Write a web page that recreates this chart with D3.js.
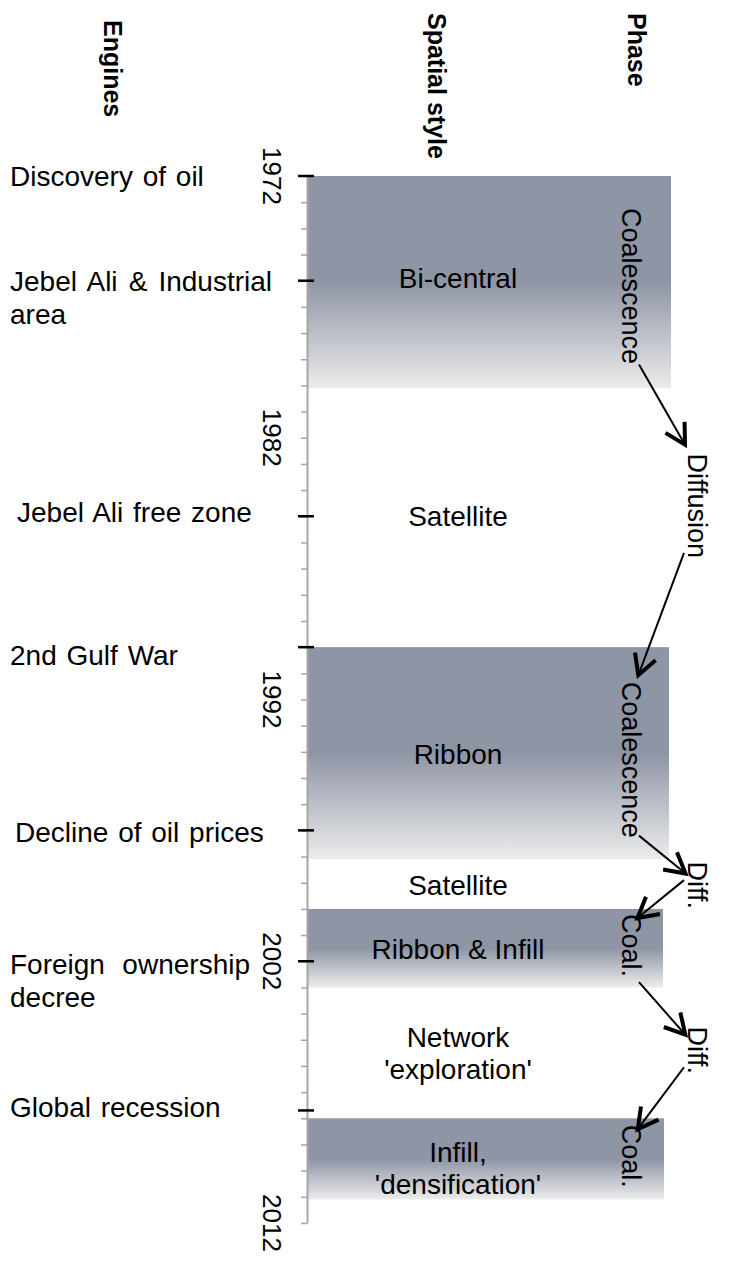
<!DOCTYPE html>
<html>
<head>
<meta charset="utf-8">
<script src="https://cdn.jsdelivr.net/npm/d3@7"></script>
<style>
  body { margin: 0; background: #fff; }
  text { font-family: "Liberation Sans", Arial, sans-serif; fill: #000; }
</style>
</head>
<body>
<div id="chart"></div>
<script>
// year labels on the time axis
const yearLabels = [1972, 1982, 1992, 2002, 2012]

// engines (left column) and the year they happen
const engineLabels = [["Discovery of oil"], ["Jebel Ali & Industrial", "area"], ["Jebel Ali free zone"], ["2nd Gulf War"],
    ["Decline of oil prices"], ["Foreign ownership", "decree"], ["Global recession"]]
const engineYears = [1972, 1976, 1985, 1990, 1997, 2002, 2007.7]

// spatial style labels (centre column)
const styleLabels = [["Bi-central"], ["Satellite"], ["Ribbon"], ["Satellite"], ["Ribbon & Infill"],
    ["Network", "'exploration'"], ["Infill,", "'densification'"]]
const styleYears = [1975.9, 1985, 1994.1, 1999.1, 2001.55, 2005.5, 2009.9]

// shaded coalescence periods
const shadeStart = [1972, 1990, 2000, 2008]
const shadeEnd = [1980.1, 1998.1, 2003, 2011.1]

// phases (right column)
const phaseLabels = ["Coalescence", "Diffusion", "Coalescence", "Diff.", "Coal.", "Diff.", "Coal."]
const phaseKind = ["coal", "diff", "coal", "diff", "coal", "diff", "coal"]
const phaseYears = [1976.2, 1984.6, 1994.3, 1999.1, 2001.4, 2005.4, 2009.45]

// arrows between phases: from year -> to year
const arrowFrom = [1979.2, 1986.4, 1997.2, 1998.9, 2002.8, 2006.05]
const arrowTo = [1982.2, 1991.0, 1998.6, 2000.3, 2004.75, 2008.35]
const arrowFromKind = ["coal", "diff", "coal", "diff", "coal", "diff"]
const arrowToKind = ["diff", "coal", "diff", "coal", "diff", "coal"]

var width = 729
var height = 1267
var axisX = 307

var svg = d3.select('#chart').append('svg').attr('width', width).attr('height', height)

var yScale = d3.scaleLinear().domain([1972, 2012]).range([176, 1223])
// column positions of the phase words / arrow ends
var phaseX = d3.scaleOrdinal().domain(["coal", "diff"]).range([622, 688])
var arrowX = d3.scaleOrdinal().domain(["coal", "diff"]).range([639, 684])

// gradient of the shaded bars
var defs = svg.append('defs')
var grad = defs.append('linearGradient').attr('id', 'shade')
    .attr('x1', 0).attr('y1', 0).attr('x2', 0).attr('y2', 1)
grad.append('stop').attr('offset', '0%').attr('stop-color', '#8e95a5')
grad.append('stop').attr('offset', '50%').attr('stop-color', '#8e95a5')
grad.append('stop').attr('offset', '100%').attr('stop-color', '#ececec')

defs.append('marker').attr('id', 'head')
    .attr('viewBox', '-4 -16 30 32').attr('refX', 18).attr('refY', 0)
    .attr('markerWidth', 30).attr('markerHeight', 32).attr('markerUnits', 'userSpaceOnUse')
    .attr('orient', 'auto')
    .append('path').attr('d', 'M0,-11L20,0L0,11').attr('fill', 'none')
    .attr('stroke', '#000').attr('stroke-width', 4)

//bars
var barRight = [671, 669, 663, 664]
svg.append('g').selectAll('rect').data(shadeStart).join('rect')
    .attr('x', axisX)
    .attr('y', d => yScale(d))
    .attr('width', (d, i) => barRight[i] - axisX)
    .attr('height', (d, i) => yScale(shadeEnd[i]) - yScale(d))
    .attr('fill', 'url(#shade)')

//axis with a tick each year
var yearTicks = d3.range(1972, 2013)
var axis = svg.append('g').attr('transform', `translate(${axisX},0)`)
    .call(d3.axisLeft(yScale).tickValues(yearTicks).tickSize(6).tickSizeOuter(0).tickFormat(''))
axis.select('.domain').attr('stroke', '#a6a6a6').attr('stroke-width', 2)
axis.selectAll('.tick line').attr('stroke', '#a6a6a6').attr('stroke-width', 1.5)

// year labels, rotated
svg.append('g').selectAll('text').data(yearLabels).join('text')
    .attr('transform', d => `translate(${263},${yScale(d)}) rotate(90)`)
    .attr('text-anchor', 'middle')
    .style('font-size', '26px')
    .text(d => d)

// engine ticks
svg.append('g').selectAll('line').data(engineYears).join('line')
    .attr('x1', axisX - 9).attr('x2', axisX + 7)
    .attr('y1', d => yScale(d)).attr('y2', d => yScale(d))
    .attr('stroke', '#000').attr('stroke-width', 2.5)

// engine labels (wrapped lines are justified like the original text box)
var engIndent = [10, 10, 17, 10, 15, 10, 10]
var engShift = [0, 0, -4, 8, 2, 3, -3]
var engJustify = [0, 262, 0, 0, 0, 240, 0]
var eng = svg.append('g').selectAll('text').data(engineLabels).join('text')
    .attr('y', (d, i) => yScale(engineYears[i]) + 10 + engShift[i])
    .style('font-size', '28px')
eng.each(function (d, i) {
    let t = d3.select(this)
    d.forEach((line, j) => {
        let ts = t.append('tspan').attr('x', engIndent[i]).attr('dy', j == 0 ? 0 : 33).text(line)
        if (engJustify[i] && j < d.length - 1) {
            let gaps = line.split(' ').length - 1
            let extra = (engJustify[i] - ts.node().getComputedTextLength()) / gaps
            ts.style('word-spacing', Math.max(0, extra) + 'px')
        }
    })
})
eng.filter(d => d.length == 1).style('word-spacing', '2px')

// spatial style labels
var sty = svg.append('g').selectAll('text').data(styleLabels).join('text')
    .attr('text-anchor', 'middle')
    .attr('y', (d, i) => yScale(styleYears[i]) + 10 - (d.length - 1) * 16)
    .style('font-size', '28px')
sty.selectAll('tspan').data(d => d).join('tspan')
    .attr('x', 458)
    .attr('dy', (d, i) => i == 0 ? 0 : 32)
    .text(d => d)

// phase labels
svg.append('g').selectAll('text').data(phaseLabels).join('text')
    .attr('transform', (d, i) => `translate(${phaseX(phaseKind[i])},${yScale(phaseYears[i])}) rotate(90)`)
    .attr('text-anchor', 'middle')
    .style('font-size', '27px')
    .text(d => d)

// arrows
svg.append('g').selectAll('line').data(arrowFrom).join('line')
    .attr('x1', (d, i) => arrowX(arrowFromKind[i]))
    .attr('y1', d => yScale(d))
    .attr('x2', (d, i) => arrowX(arrowToKind[i]))
    .attr('y2', (d, i) => yScale(arrowTo[i]))
    .attr('stroke', '#000').attr('stroke-width', 2)
    .attr('marker-end', 'url(#head)')

// column headers
var headers = [["Engines", 104, 20], ["Spatial style", 428, 13], ["Phase", 628, 13]]
svg.append('g').selectAll('text').data(headers).join('text')
    .attr('transform', d => `translate(${d[1]},${d[2]}) rotate(90)`)
    .style('font-size', '25px').style('font-weight', 'bold')
    .text(d => d[0])
</script>
</body>
</html>
